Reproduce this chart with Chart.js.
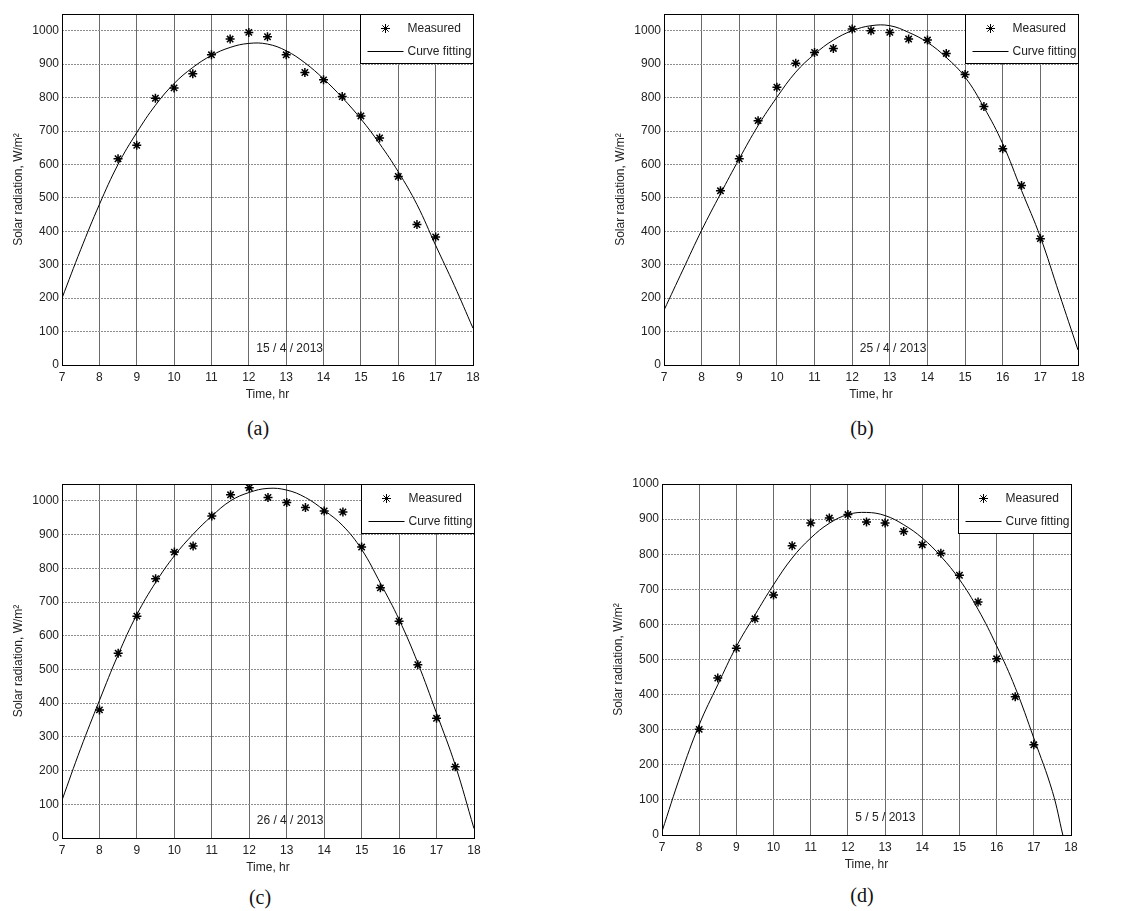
<!DOCTYPE html>
<html>
<head>
<meta charset="utf-8">
<title>Solar radiation</title>
<script src="https://cdn.jsdelivr.net/npm/chart.js@4.4.0/dist/chart.umd.min.js"></script>
<style>
  body { margin: 0; background: #fff; width: 1130px; height: 911px; position: relative; overflow: hidden; }
  .panel { position: absolute; }
  .caption {
    position: absolute;
    font-family: "Times New Roman", "Liberation Serif", serif;
    font-size: 20px;
    color: #111;
    transform: translate(-50%, -50%);
  }
</style>
</head>
<body>
<script>
// ---- dados ----
const dates = ["15 / 4 / 2013", "25 / 4 / 2013", "26 / 4 / 2013", "5 / 5 / 2013"];
const captions = ["(a)", "(b)", "(c)", "(d)"];
const yMaxes = [1050, 1050, 1050, 1000];

const fitHours = [7, 7.5, 8, 8.5, 9, 9.5, 10, 10.5, 11, 11.5, 12, 12.5, 13, 13.5, 14, 14.5, 15, 15.5, 16, 16.5, 17, 17.5, 18];
const fitHoursD = [7, 7.5, 8, 8.5, 9, 9.5, 10, 10.5, 11, 11.5, 12, 12.5, 13, 13.5, 14, 14.5, 15, 15.5, 16, 16.5, 17, 17.5, 17.78];

// (a) 15/4/2013
const measuredHoursA = [8.5, 9, 9.5, 10, 10.5, 11, 11.5, 12, 12.5, 13, 13.5, 14, 14.5, 15, 15.5, 16, 16.5, 17];
const measuredA = [617, 657, 798, 829, 871, 928, 975, 995, 982, 928, 875, 853, 803, 745, 679, 564, 420, 383];
const fitA = [200, 345, 480, 600, 695, 777, 842, 890, 926, 950, 962, 960, 940, 904, 856, 800, 736, 662, 578, 480, 358, 238, 110];

// (b) 25/4/2013
const measuredHoursB = [8.5, 9, 9.5, 10, 10.5, 11, 11.5, 12, 12.5, 13, 13.5, 14, 14.5, 15, 15.5, 16, 16.5, 17];
const measuredB = [521, 617, 731, 831, 903, 935, 947, 1005, 1000, 995, 975, 972, 932, 869, 773, 647, 537, 378];
const fitB = [164, 284, 403, 512, 617, 716, 801, 876, 930, 972, 1000, 1015, 1015, 995, 965, 920, 861, 771, 662, 522, 383, 214, 45];

// (c) 26/4/2013
const measuredHoursC = [8, 8.5, 9, 9.5, 10, 10.5, 11, 11.5, 12, 12.5, 13, 13.5, 14, 14.5, 15, 15.5, 16, 16.5, 17, 17.5];
const measuredC = [380, 548, 658, 769, 848, 866, 955, 1018, 1039, 1010, 995, 980, 970, 967, 863, 742, 643, 514, 355, 211];
const fitC = [112, 266, 408, 544, 663, 758, 837, 901, 955, 1000, 1025, 1037, 1032, 1010, 972, 926, 856, 756, 648, 519, 370, 216, 28];

// (d) 5/5/2013
const measuredHoursD = [8, 8.5, 9, 9.5, 10, 10.5, 11, 11.5, 12, 12.5, 13, 13.5, 14, 14.5, 15, 15.5, 16, 16.5, 17];
const measuredD = [301, 447, 532, 616, 684, 824, 889, 903, 913, 892, 889, 865, 827, 803, 740, 664, 502, 394, 257];
const fitD = [10, 171, 314, 428, 537, 627, 713, 789, 846, 888, 913, 919, 910, 884, 846, 794, 728, 643, 539, 420, 276, 124, 0];

// ---- layout dos quatro painéis (área do gráfico em px) ----
const panels = [
  { L: 62, T: 14, R: 473, B: 365, capX: 258, capY: 428, hours: measuredHoursA, measured: measuredA, fitX: fitHours, fitY: fitA },
  { L: 664, T: 14, R: 1078, B: 365, capX: 862, capY: 428, hours: measuredHoursB, measured: measuredB, fitX: fitHours, fitY: fitB },
  { L: 62, T: 484, R: 474, B: 838, capX: 260, capY: 897, hours: measuredHoursC, measured: measuredC, fitX: fitHours, fitY: fitC },
  { L: 662, T: 484, R: 1071, B: 835, capX: 862, capY: 895, hours: measuredHoursD, measured: measuredD, fitX: fitHoursD, fitY: fitD },
];

const FONT = { family: 'Arial, "Liberation Sans", sans-serif', size: 12 };
const TEXT_COLOR = "#222";
const Y_AXIS_W = 62;
const X_AXIS_H = 45;
const PAD_TOP = 14;
const PAD_RIGHT = 20;

// moldura preta em volta da área do gráfico
const framePlugin = {
  id: "frame",
  afterDraw(chart) {
    const { ctx, chartArea: a } = chart;
    ctx.save();
    ctx.strokeStyle = "#000";
    ctx.lineWidth = 1;
    ctx.strokeRect(Math.round(a.left) + 0.5, Math.round(a.top) + 0.5, Math.round(a.width), Math.round(a.height));
    ctx.restore();
  },
};

// legenda em caixa no canto superior direito (estilo MATLAB)
const boxLegendPlugin = {
  id: "boxLegend",
  afterDraw(chart) {
    const { ctx, chartArea: a } = chart;
    const ds = chart.data.datasets;
    const w = 113, h = 49;
    const left = Math.round(a.right) - w + 0.5;
    const top = Math.round(a.top) + 0.5;
    ctx.save();
    ctx.fillStyle = "#fff";
    ctx.fillRect(left, top, w, h);
    ctx.strokeStyle = "#000";
    ctx.lineWidth = 1;
    ctx.strokeRect(left, top, w, h);

    // item 1: marcador
    ctx.strokeStyle = "#000";
    Chart.helpers.drawPoint(ctx, { pointStyle: "star", radius: 4.5, borderWidth: 1.5 }, left + 25, top + 14);
    // item 2: linha
    ctx.beginPath();
    ctx.moveTo(left + 7, top + 37);
    ctx.lineTo(left + 43, top + 37);
    ctx.lineWidth = 1;
    ctx.stroke();

    ctx.fillStyle = TEXT_COLOR;
    ctx.font = `${FONT.size}px ${FONT.family}`;
    ctx.textBaseline = "middle";
    ctx.textAlign = "left";
    ctx.fillText(ds[0].label, left + 47, top + 14);
    ctx.fillText(ds[1].label, left + 47, top + 37);
    ctx.restore();
  },
};

// data escrita dentro do gráfico
const datePlugin = {
  id: "dateText",
  afterDatasetsDraw(chart, args, opts) {
    const { ctx, scales } = chart;
    ctx.save();
    ctx.fillStyle = TEXT_COLOR;
    ctx.font = `${FONT.size}px ${FONT.family}`;
    ctx.textBaseline = "middle";
    ctx.textAlign = "left";
    ctx.fillText(opts.text, scales.x.getPixelForValue(12.2), scales.y.getPixelForValue(50));
    ctx.restore();
  },
};

panels.forEach((p, i) => {
  const wrap = document.createElement("div");
  wrap.className = "panel";
  wrap.style.left = p.L - Y_AXIS_W + "px";
  wrap.style.top = p.T - PAD_TOP + "px";
  const canvas = document.createElement("canvas");
  canvas.width = p.R - p.L + Y_AXIS_W + PAD_RIGHT;
  canvas.height = p.B - p.T + PAD_TOP + X_AXIS_H;
  canvas.style.width = canvas.width + "px";
  canvas.style.height = canvas.height + "px";
  wrap.appendChild(canvas);
  document.body.appendChild(wrap);

  const cap = document.createElement("div");
  cap.className = "caption";
  cap.style.left = p.capX + "px";
  cap.style.top = p.capY + "px";
  cap.textContent = captions[i];
  document.body.appendChild(cap);

  new Chart(canvas, {
    type: "scatter",
    data: {
      datasets: [
        {
          label: "Measured",
          data: p.hours.map((h, k) => ({ x: h, y: p.measured[k] })),
          pointStyle: "star",
          pointRadius: 4.5,
          borderColor: "#000",
          backgroundColor: "#000",
          borderWidth: 1.5,
          showLine: false,
        },
        {
          label: "Curve fitting",
          data: p.fitX.map((h, k) => ({ x: h, y: p.fitY[k] })),
          showLine: true,
          pointRadius: 0,
          borderColor: "#000",
          borderWidth: 1,
          tension: 0.4,
          fill: false,
        },
      ],
    },
    options: {
      responsive: false,
      animation: false,
      events: [],
      layout: { padding: { top: PAD_TOP, right: PAD_RIGHT, left: 0, bottom: 0 } },
      plugins: {
        legend: { display: false },
        tooltip: { enabled: false },
        dateText: { text: dates[i] },
      },
      scales: {
        x: {
          type: "linear",
          min: 7,
          max: 18,
          ticks: { stepSize: 1, padding: 5, font: FONT, color: TEXT_COLOR, maxRotation: 0, callback: (v) => String(v) },
          grid: { drawTicks: false, color: "#6a6a6a", lineWidth: 1 },
          border: { display: false },
          title: { display: true, text: "Time, hr", font: FONT, color: TEXT_COLOR, padding: { top: 0, bottom: 8 } },
          afterFit: (s) => { s.height = X_AXIS_H; },
        },
        y: {
          type: "linear",
          min: 0,
          max: yMaxes[i],
          ticks: { stepSize: 100, includeBounds: false, padding: 3, font: FONT, color: TEXT_COLOR, callback: (v) => String(v) },
          grid: { drawTicks: false, color: "#8c8c8c", lineWidth: 1 },
          border: { display: false, dash: [2, 1] },
          title: { display: true, text: "Solar radiation, W/m²", font: FONT, color: TEXT_COLOR, padding: { top: 11, bottom: 0 } },
          afterFit: (s) => { s.width = Y_AXIS_W; },
        },
      },
    },
    plugins: [framePlugin, boxLegendPlugin, datePlugin],
  });
});
</script>
</body>
</html>
